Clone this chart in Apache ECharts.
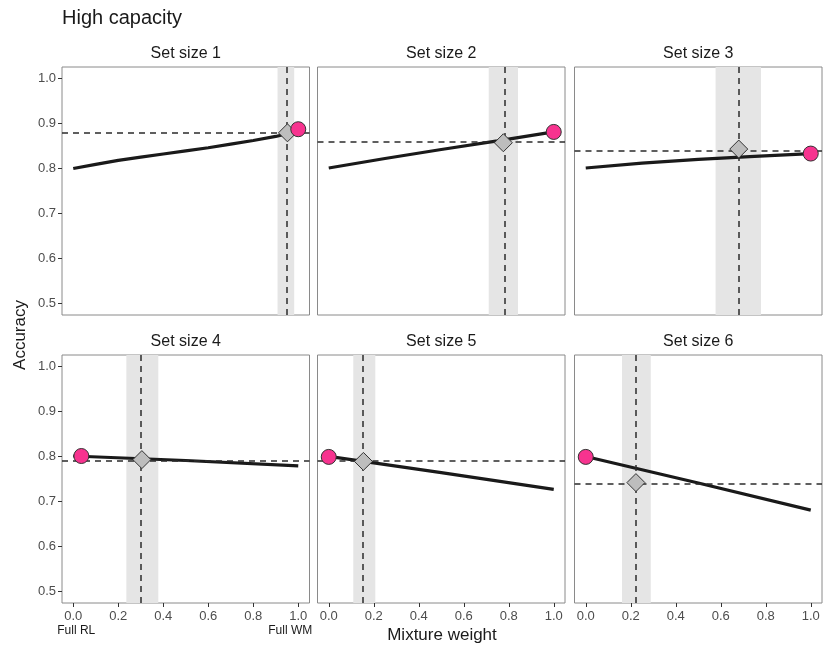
<!DOCTYPE html>
<html>
<head>
<meta charset="utf-8">
<script src="https://cdn.jsdelivr.net/npm/echarts@6/dist/echarts.min.js"></script>
<style>
  html, body { margin: 0; padding: 0; background: #fff; }
  #chart { width: 823px; height: 650px; }
</style>
</head>
<body>
<div id="chart"></div>
<script>
// panel titles
const setSizes = ["Set size 1", "Set size 2", "Set size 3", "Set size 4", "Set size 5", "Set size 6"];

// accuracy curve for each set size (mixture weight, accuracy)
const curve1 = [[0, 0.800], [0.1, 0.809], [0.2, 0.818], [0.3, 0.825], [0.4, 0.832], [0.5, 0.839], [0.6, 0.846], [0.7, 0.854], [0.8, 0.862], [0.9, 0.871], [1.0, 0.883]];
const curve2 = [[0, 0.801], [0.25, 0.822], [0.5, 0.842], [0.75, 0.861], [1.0, 0.881]];
const curve3 = [[0, 0.801], [0.25, 0.812], [0.5, 0.820], [0.75, 0.827], [1.0, 0.833]];
const curve4 = [[0, 0.801], [0.5, 0.791], [1.0, 0.779]];
const curve5 = [[0, 0.800], [0.5, 0.764], [1.0, 0.727]];
const curve6 = [[0, 0.800], [0.5, 0.741], [1.0, 0.681]];
const curves = [curve1, curve2, curve3, curve4, curve5, curve6];

// best fitting mixture weight (diamond) and its interval
const optWeight = [0.952, 0.776, 0.680, 0.305, 0.154, 0.223];
const optAcc = [0.879, 0.857, 0.843, 0.793, 0.789, 0.742];
const bandLo = [0.908, 0.711, 0.577, 0.236, 0.109, 0.161];
const bandHi = [0.982, 0.841, 0.779, 0.378, 0.207, 0.289];

// pink point (observed accuracy)
const obsWeight = [1.0, 1.0, 1.0, 0.036, 0.0, 0.0];
const obsAcc = [0.887, 0.881, 0.833, 0.801, 0.799, 0.799];

const xTicks = [0, 0.2, 0.4, 0.6, 0.8, 1.0];
const yTicks = [0.5, 0.6, 0.7, 0.8, 0.9, 1.0];

const font = "Liberation Sans";
const colLeft = [62, 317.5, 574.5];
const rowTop = [67, 355];
const panelW = 247.5;
const panelH = 248;

const grids = [], xAxes = [], yAxes = [], titles = [], series = [];

titles.push({
  text: "High capacity",
  left: 62, top: 8, padding: 0,
  textStyle: { fontFamily: font, fontSize: 20, fontWeight: "normal", color: "#1a1a1a" },
});

for (let i = 0; i < 6; i++) {
  const col = i % 3;
  const row = Math.floor(i / 3);
  const isBottom = row === 1;
  const isLeft = col === 0;

  grids.push({
    left: colLeft[col], top: rowTop[row], width: panelW, height: panelH,
    show: true, borderColor: "#8a8a8a", borderWidth: 1, backgroundColor: "#fff",
  });

  titles.push({
    text: setSizes[i],
    left: colLeft[col] + panelW / 2, top: rowTop[row] - 21, padding: 0,
    textAlign: "center",
    textStyle: { fontFamily: font, fontSize: 16, fontWeight: "normal", color: "#1a1a1a" },
  });

  xAxes.push({
    type: "value", gridIndex: i, min: -0.05, max: 1.05,
    splitLine: { show: false },
    axisLine: { show: false, onZero: false },
    axisTick: { show: isBottom, length: 4, lineStyle: { color: "#333" }, customValues: xTicks },
    axisLabel: {
      show: isBottom, customValues: xTicks, margin: 7,
      fontFamily: font, fontSize: 13, color: "#4d4d4d",
      formatter: (v) => {
        const s = v.toFixed(1);
        if (i === 3 && v === 0) return s + "\n{rl|Full RL}";
        if (i === 3 && v === 1) return s + "\n{wm|Full WM}";
        return s;
      },
      rich: {
        rl: { fontFamily: font, fontSize: 12, color: "#1a1a1a", lineHeight: 16, padding: [0, 0, 0, 6] },
        wm: { fontFamily: font, fontSize: 12, color: "#1a1a1a", lineHeight: 16, padding: [0, 16, 0, 0] },
      },
    },
  });

  yAxes.push({
    type: "value", gridIndex: i, min: 0.475, max: 1.025,
    splitLine: { show: false },
    axisLine: { show: false, onZero: false },
    axisTick: { show: isLeft, length: 4, lineStyle: { color: "#333" }, customValues: yTicks },
    axisLabel: {
      show: isLeft, customValues: yTicks, margin: 6,
      fontFamily: font, fontSize: 13, color: "#4d4d4d",
      formatter: (v) => v.toFixed(1),
    },
  });

  // shaded interval
  series.push({
    type: "line", xAxisIndex: i, yAxisIndex: i, data: [], z: 1, silent: true,
    markArea: {
      silent: true,
      itemStyle: { color: "#e5e5e5" },
      data: [[{ xAxis: bandLo[i] }, { xAxis: bandHi[i] }]],
    },
  });

  // accuracy curve
  series.push({
    type: "line", xAxisIndex: i, yAxisIndex: i, data: curves[i], z: 2,
    symbol: "none", silent: true,
    lineStyle: { color: "#1a1a1a", width: 3.2 },
  });

  // dashed reference lines
  series.push({
    type: "line", xAxisIndex: i, yAxisIndex: i, data: [], z: 3, silent: true,
    markLine: {
      silent: true, symbol: "none", animation: false,
      label: { show: false },
      lineStyle: { type: [6, 5], color: "#2b2b2b", width: 1.5 },
      data: [{ xAxis: optWeight[i] }, { yAxis: optAcc[i] }],
    },
  });

  // best fit diamond
  series.push({
    type: "scatter", xAxisIndex: i, yAxisIndex: i, z: 10, silent: true,
    data: [[optWeight[i], optAcc[i]]],
    symbol: "diamond", symbolSize: [18, 18],
    itemStyle: { color: "#bdbdbd", borderColor: "#333", borderWidth: 1, opacity: 1 },
  });

  // observed point
  series.push({
    type: "scatter", xAxisIndex: i, yAxisIndex: i, z: 11, silent: true,
    data: [[obsWeight[i], obsAcc[i]]],
    symbol: "circle", symbolSize: 15,
    itemStyle: { color: "#f7338f", borderColor: "#333", borderWidth: 1, opacity: 1 },
  });
}

const chart = echarts.init(document.getElementById("chart"), null, { renderer: "canvas" });
chart.setOption({
  animation: false,
  backgroundColor: "#fff",
  title: titles,
  grid: grids,
  xAxis: xAxes,
  yAxis: yAxes,
  series: series,
  graphic: [
    {
      type: "text", x: 20, y: 335, rotation: Math.PI / 2,
      style: { text: "Accuracy", fontFamily: font, fontSize: 17, fill: "#1a1a1a", align: "center", verticalAlign: "middle" },
    },
    {
      type: "text", x: 442, y: 635,
      style: { text: "Mixture weight", fontFamily: font, fontSize: 17, fill: "#1a1a1a", align: "center", verticalAlign: "middle" },
    },
  ],
});
</script>
</body>
</html>
